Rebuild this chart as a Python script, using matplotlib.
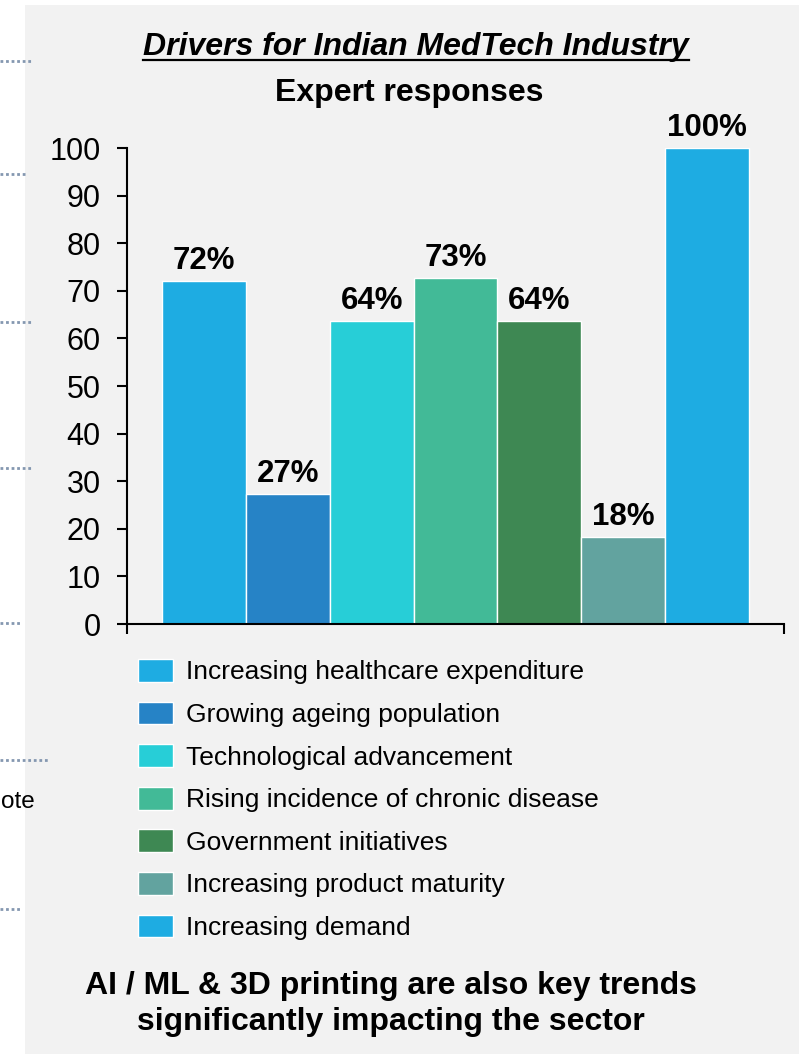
import matplotlib
matplotlib.use("Agg")
import matplotlib.pyplot as plt
from matplotlib.patches import Rectangle
from matplotlib.lines import Line2D

plt.rcParams['font.family'] = ['Liberation Sans', 'DejaVu Sans']

categories = [
    "Increasing healthcare expenditure",
    "Growing ageing population",
    "Technological advancement",
    "Rising incidence of chronic disease",
    "Government initiatives",
    "Increasing product maturity",
    "Increasing demand",
]
values = [72, 27.3, 63.6, 72.7, 63.6, 18.2, 100]
colors = ["#1EACE2", "#2683C6", "#27CED7", "#42BA97", "#3E8853", "#62A39F", "#1EACE2"]
yticks = [0, 10, 20, 30, 40, 50, 60, 70, 80, 90, 100]

title = "Drivers for Indian MedTech Industry"
subtitle = "Expert responses"
footer = "AI / ML & 3D printing are also key trends\nsignificantly impacting the sector"

W, H = 808, 1054
fig = plt.figure(figsize=(W / 100, H / 100), dpi=100, facecolor="white")

def fx(px):
    return px / W

def fy(py):
    return 1 - py / H

# gray panel
fig.patches.append(Rectangle((fx(25), 0), fx(799) - fx(25), fy(5), transform=fig.transFigure,
                             facecolor="#F2F2F2", edgecolor="none", zorder=-5))

# dotted lines on the left (from neighbouring slide content)
for yy, xe in [(61, 33), (174, 25), (322, 33), (468, 33), (623, 22), (760, 50), (909, 22)]:
    fig.add_artist(Line2D([0, fx(xe)], [fy(yy), fy(yy)], transform=fig.transFigure,
                          color="#8497B0", lw=2, linestyle=(0, (1, 1)), zorder=1))
fig.text(fx(0.5), fy(808), "ote", ha="left", va="baseline", fontsize=17.5, color="black")

# axes
ax = fig.add_axes([fx(127), fy(624), fx(784) - fx(127), fy(148) - fy(624)])
ax.set_facecolor("none")
for i, (v, c, lab) in enumerate(zip(values, colors, categories)):
    ax.bar(i, v, width=1.0, color=c, edgecolor="white", linewidth=1.0, label=lab, zorder=2)
    ax.text(i, v + 2.5, f"{v:.0f}%", ha="center", va="baseline", fontsize=22.5,
            fontweight="bold", clip_on=False)

ax.set_xlim(-0.917, 6.917)
ax.set_ylim(0, 100)
ax.set_yticks(yticks)
ax.set_yticklabels([str(t) for t in yticks], fontsize=22)
ax.set_xticks([-0.917, 6.917])
ax.set_xticklabels([])
ax.tick_params(axis="y", direction="out", length=7, width=1.5, pad=12)
ax.tick_params(axis="x", direction="out", length=7, width=1.5)
for s in ["top", "right"]:
    ax.spines[s].set_visible(False)
for s in ["left", "bottom"]:
    ax.spines[s].set_linewidth(1.5)

# titles
t1 = fig.text(fx(416), fy(55), title, ha="center", va="baseline", fontsize=23,
              fontweight="bold", fontstyle="italic")
fig.text(fx(409), fy(101), subtitle, ha="center", va="baseline", fontsize=23,
         fontweight="bold")

# legend
handles, labels = ax.get_legend_handles_labels()
fig.legend(handles, labels, loc="upper left", bbox_to_anchor=(fx(138), fy(659)),
           frameon=False, fontsize=19, handlelength=1.33, handleheight=0.95,
           handletextpad=0.49, labelspacing=0.65, borderaxespad=0, borderpad=0)

fig.text(fx(391), fy(1030), footer, ha="center", va="baseline", fontsize=23,
         fontweight="bold", linespacing=1.26)

# underline for title
fig.canvas.draw()
bb = t1.get_window_extent(renderer=fig.canvas.get_renderer())
fig.add_artist(Line2D([bb.x0 / W, bb.x1 / W], [fy(60), fy(60)], transform=fig.transFigure,
                      color="black", lw=1.6))

fig.savefig("out.png", dpi=100, facecolor="white")
